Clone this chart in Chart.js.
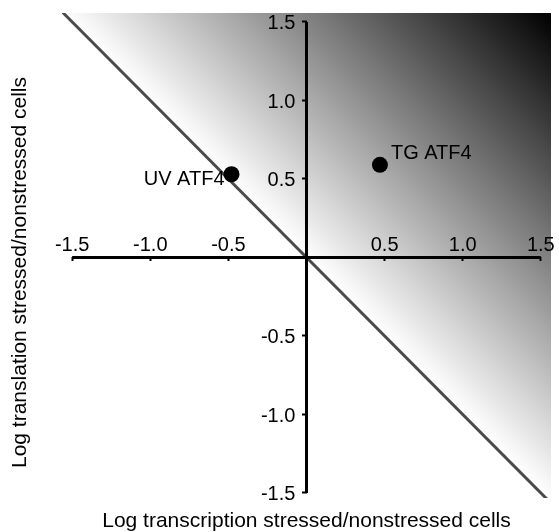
<!DOCTYPE html>
<html>
<head>
<meta charset="utf-8">
<script src="https://cdn.jsdelivr.net/npm/chart.js@4.4.1/dist/chart.umd.min.js"></script>
<style>
  html, body { margin: 0; padding: 0; background: #fff; }
  #wrap { width: 559px; height: 532px; position: relative; }
</style>
</head>
<body>
<div id="wrap"><canvas id="fig"></canvas></div>
<script>
// values
const pointNames = ['UV ATF4', 'TG ATF4'];
const transcription = [-0.48, 0.47];   // x
const translation = [0.53, 0.59];      // y
const xTickVals = [-1.5, -1.0, -0.5, 0.5, 1.0, 1.5];
const yTickVals = [-1.5, -1.0, -0.5, 0.5, 1.0, 1.5];
const xRange = [-1.565, 1.565];
const yRange = [-1.532, 1.557];

const FONT = "'Liberation Sans', Arial, sans-serif";

// diagonal y = -x across the whole plot
const diag = [
  { x: xRange[0], y: -xRange[0] },
  { x: xRange[1], y: -xRange[1] }
];

const pts = transcription.map((x, i) => ({ x: x, y: translation[i] }));

function shade(context) {
  const chart = context.chart;
  const area = chart.chartArea;
  if (!area) return null;
  const x0 = chart.scales.x.getPixelForValue(0);
  const y0 = chart.scales.y.getPixelForValue(0);
  const g = chart.ctx.createLinearGradient(x0, y0, area.right, area.top);
  g.addColorStop(0, '#ffffff');
  g.addColorStop(1, '#000000');
  return g;
}

// names next to the two dots
const pointLabels = {
  id: 'pointLabels',
  afterDatasetsDraw(chart) {
    const meta = chart.getDatasetMeta(0);
    const ctx = chart.ctx;
    ctx.save();
    ctx.font = '20px ' + FONT;
    ctx.fillStyle = '#000';
    ctx.textBaseline = 'middle';
    meta.data.forEach((el, i) => {
      if (i === 0) {
        ctx.textAlign = 'right';
        ctx.fillText(pointNames[i], el.x - 7, el.y + 5);
      } else {
        ctx.textAlign = 'left';
        ctx.fillText(pointNames[i], el.x + 11, el.y - 11);
      }
    });
    ctx.restore();
  }
};

const config = {
  type: 'scatter',
  data: {
    datasets: [
      {
        label: 'genes',
        data: pts,
        backgroundColor: '#000',
        borderWidth: 0,
        pointRadius: 8,
        order: 0
      },
      {
        label: 'x axis',
        data: [{ x: xTickVals[0], y: 0 }, { x: xTickVals[xTickVals.length - 1], y: 0 }],
        showLine: true,
        borderColor: '#000',
        borderWidth: 3,
        pointRadius: 0,
        order: 1
      },
      {
        label: 'y axis',
        data: [{ x: 0, y: yTickVals[0] }, { x: 0, y: yTickVals[yTickVals.length - 1] }],
        showLine: true,
        borderColor: '#000',
        borderWidth: 3,
        pointRadius: 0,
        order: 1
      },
      {
        label: 'diagonal',
        data: diag,
        showLine: true,
        borderColor: '#4a4a4a',
        borderWidth: 3,
        pointRadius: 0,
        backgroundColor: shade,
        fill: { value: yRange[1] },
        order: 2
      }
    ]
  },
  options: {
    responsive: true,
    maintainAspectRatio: false,
    animation: false,
    layout: { padding: { top: 13, right: 6, left: 0, bottom: 0 } },
    plugins: {
      legend: { display: false },
      tooltip: { enabled: false },
      title: {
        display: true,
        position: 'bottom',
        fullSize: false,
        text: 'Log transcription stressed/nonstressed cells',
        color: '#000',
        font: { family: FONT, size: 21, weight: 'normal', lineHeight: 1 },
        padding: { top: 13, bottom: 0 }
      },
      subtitle: {
        display: true,
        position: 'left',
        text: 'Log translation stressed/nonstressed cells',
        color: '#000',
        font: { family: FONT, size: 21, weight: 'normal', lineHeight: 1 },
        padding: { top: 10, bottom: 31 }
      }
    },
    scales: {
      x: {
        type: 'linear',
        position: { y: 0 },
        min: xRange[0],
        max: xRange[1],
        afterBuildTicks: (s) => { s.ticks = xTickVals.map(v => ({ value: v })); },
        ticks: {
          z: 2,
          color: '#000',
          font: { family: FONT, size: 20, lineHeight: 1 },
          padding: -26,
          maxRotation: 0,
          autoSkip: false,
          callback: (v) => Number(v).toFixed(1)
        },
        grid: { z: 2, drawOnChartArea: false, drawTicks: true, tickLength: 4, color: '#000', tickWidth: 2 },
        border: { display: false }
      },
      y: {
        type: 'linear',
        position: { x: 0 },
        min: yRange[0],
        max: yRange[1],
        afterBuildTicks: (s) => { s.ticks = yTickVals.map(v => ({ value: v })); },
        ticks: {
          z: 2,
          color: '#000',
          font: { family: FONT, size: 20, lineHeight: 1 },
          labelOffset: 2,
          autoSkip: false,
          // labels sit right-aligned on the axis; trailing spaces keep them clear of it
          callback: (v) => Number(v).toFixed(1) + '  '
        },
        grid: { z: 2, drawOnChartArea: false, drawTicks: true, tickLength: 5, color: '#000', tickWidth: 2 },
        border: { display: false }
      }
    }
  },
  plugins: [pointLabels]
};

const fig = new Chart(document.getElementById('fig'), config);
</script>
</body>
</html>
